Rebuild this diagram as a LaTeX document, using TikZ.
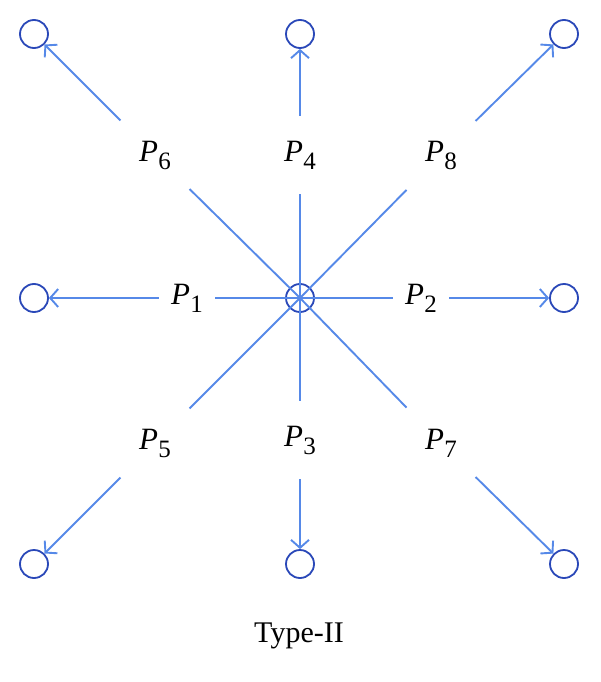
\documentclass[tikz,border=0pt]{standalone}
\usepackage{fontspec}
\setmainfont{Liberation Serif}
\usetikzlibrary{arrows.meta}

\definecolor{lineblue}{RGB}{86,137,232}
\definecolor{ringblue}{RGB}{42,72,184}

\newcommand{\plab}[1]{\textit{P}\kern0.5pt\raisebox{-8pt}{\fontsize{25}{25}\selectfont #1}}

\begin{document}
\begin{tikzpicture}[x=1pt,y=-1pt,
  ray/.style={draw=lineblue, line width=1.9pt},
  push/.style={ray, -{Straight Barb[length=8pt,width=18pt]}},
  ring/.style={circle, draw=ringblue, line width=1.8pt, minimum size=28pt, inner sep=0pt},
  plabel/.style={rectangle, inner sep=0pt, minimum width=56pt, minimum height=78pt, font=\fontsize{31}{31}\selectfont},
  slant/.style={shorten <=9pt}]
\useasboundingbox (0,0) rectangle (600,682);

% rings
\node[ring] (c) at (300,298) {};
\node[ring] (o6) at (34,34) {};
\node[ring] (o4) at (300,34) {};
\node[ring] (o8) at (564,34) {};
\node[ring] (o1) at (34,298) {};
\node[ring] (o2) at (564,298) {};
\node[ring] (o5) at (34,564) {};
\node[ring] (o3) at (300,564) {};
\node[ring] (o7) at (564,564) {};

% labels
\node[plabel] (p6) at (155,155) {\plab{6}};
\node[plabel] (p4) at (300,155) {\plab{4}};
\node[plabel] (p8) at (441,155) {\plab{8}};
\node[plabel] (p1) at (187,298) {\plab{1}};
\node[plabel] (p2) at (421,298) {\plab{2}};
\node[plabel] (p5) at (155,443) {\plab{5}};
\node[plabel] (p3) at (300,440) {\plab{3}};
\node[plabel] (p7) at (441,443) {\plab{7}};

% spokes
\draw[ray] (p1) -- (c.center);
\draw[ray] (p2) -- (c.center);
\draw[ray] (p3) -- (c.center);
\draw[ray] (p4) -- (c.center);
\draw[ray, slant] (p5) -- (c.center);
\draw[ray, slant] (p6) -- (c.center);
\draw[ray, slant] (p7) -- (c.center);
\draw[ray, slant] (p8) -- (c.center);

% arrows
\draw[push] (p1) -- (o1);
\draw[push] (p2) -- (o2);
\draw[push] (p3) -- (o3);
\draw[push] (p4) -- (o4);
\draw[push, slant] (p5) -- (o5);
\draw[push, slant] (p6) -- (o6);
\draw[push, slant] (p7) -- (o7);
\draw[push, slant] (p8) -- (o8);

\node[font=\fontsize{30}{30}\selectfont] (title) at (299,636) {Type-II};
\end{tikzpicture}
\end{document}
